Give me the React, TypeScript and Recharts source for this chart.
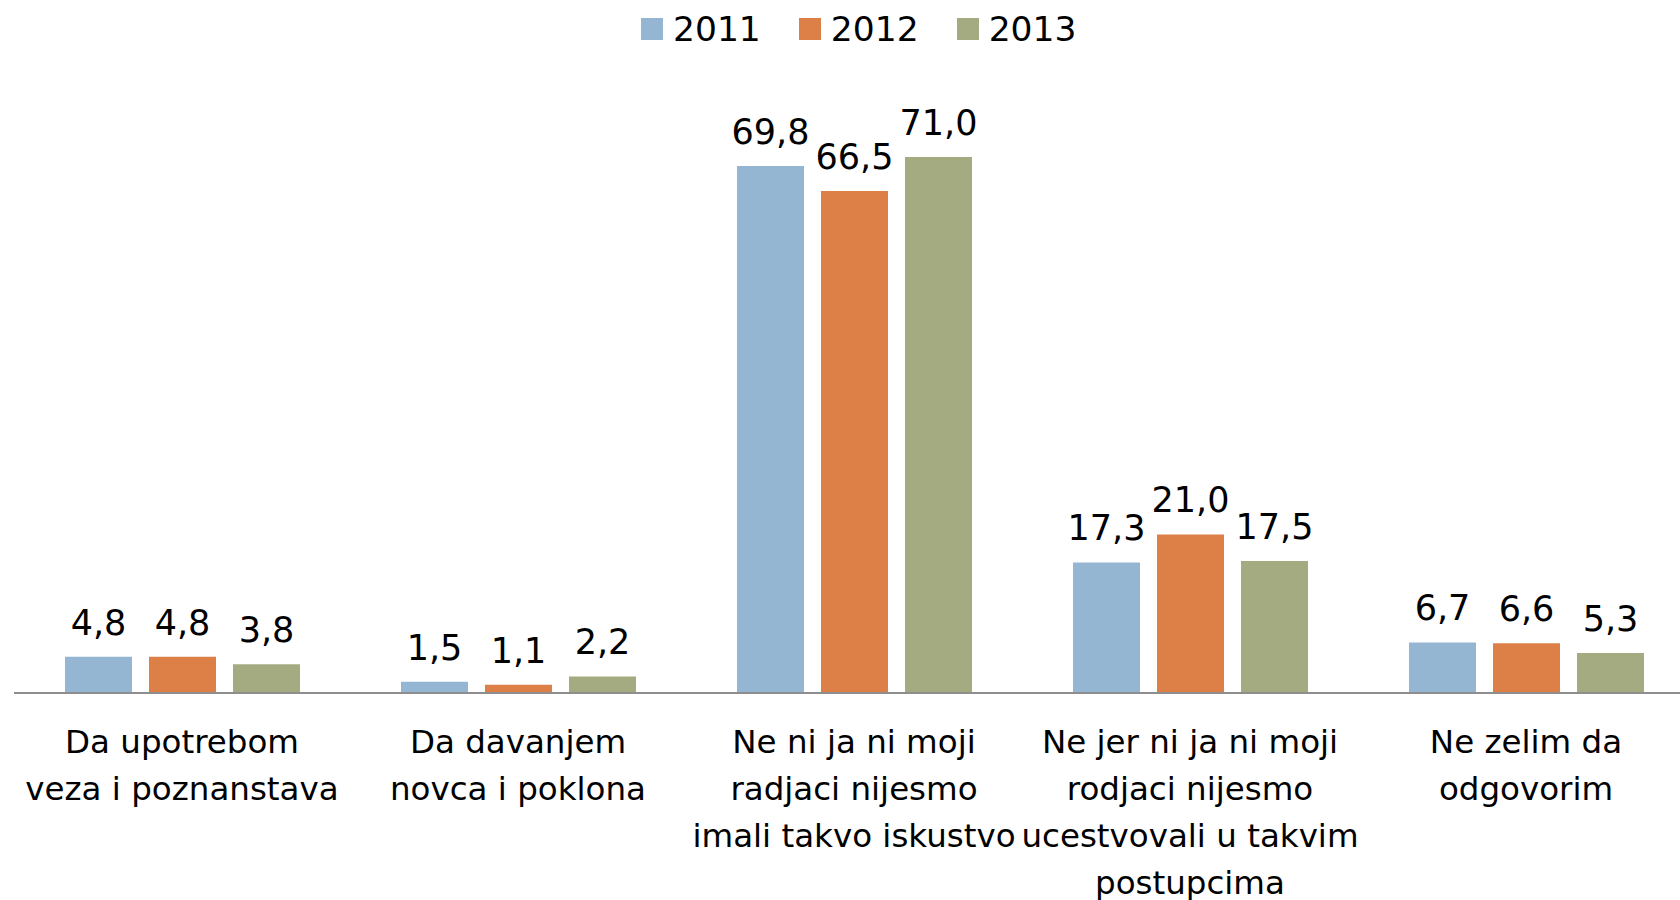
import React from "react";
import { BarChart, Bar, XAxis, YAxis, Legend, LabelList } from "recharts";

const categories = [
  "Da upotrebom\nveza i poznanstava",
  "Da davanjem\nnovca i poklona",
  "Ne ni ja ni moji\nradjaci nijesmo\nimali takvo iskustvo",
  "Ne jer ni ja ni moji\nrodjaci nijesmo\nucestvovali u takvim\npostupcima",
  "Ne zelim da\nodgovorim",
];
const years = ["2011", "2012", "2013"];
const v2011 = [4.8, 1.5, 69.8, 17.3, 6.7];
const v2012 = [4.8, 1.1, 66.5, 21.0, 6.6];
const v2013 = [3.8, 2.2, 71.0, 17.5, 5.3];
const colors = ["#94B6D2", "#DD8047", "#A5AB81"];

const data = categories.map((c, i) => ({
  name: c,
  y2011: v2011[i],
  y2012: v2012[i],
  y2013: v2013[i],
}));

const FONT = "'DejaVu Sans', sans-serif";

const fmt = (v: any) => Number(v).toFixed(1).replace(".", ",");

const CategoryTick = (props: any) => {
  const { x, y, payload } = props;
  const lines = String(payload.value).split("\n");
  return (
    <g>
      {lines.map((ln, i) => (
        <text
          key={i}
          x={x}
          y={y + 60 + i * 47}
          textAnchor="middle"
          fontFamily={FONT}
          fontSize={32.5}
          fill="#000"
        >
          {ln}
        </text>
      ))}
    </g>
  );
};

const LegendContent = () => (
  <div
    style={{
      display: "flex",
      alignItems: "center",
      paddingLeft: 641,
      fontFamily: FONT,
      fontSize: 34.5,
      color: "#000",
      height: 40,
    }}
  >
    {years.map((yr, i) => (
      <div key={yr} style={{ display: "flex", alignItems: "center", marginRight: 38 }}>
        <div style={{ width: 22, height: 22, background: colors[i], marginRight: 10 }} />
        <span style={{ lineHeight: "40px" }}>{yr}</span>
      </div>
    ))}
  </div>
);

export default function App() {
  const keys = ["y2011", "y2012", "y2013"];
  return (
    <div
      style={{
        position: "fixed",
        left: 0,
        top: 0,
        width: 1680,
        height: 900,
        overflow: "hidden",
        background: "#fff",
      }}
    >
      <BarChart
        width={1700}
        height={900}
        data={data}
        margin={{ top: 48, right: 6, bottom: 0, left: 14 }}
        barGap={17}
        barSize={67}
      >
        <XAxis
          dataKey="name"
          tick={<CategoryTick />}
          tickLine={false}
          tickSize={0}
          tickMargin={0}
          height={207}
          interval={0}
          axisLine={{ stroke: "#8E8E8E", strokeWidth: 2 }}
        />
        <YAxis hide domain={[0, 80]} />
        <Legend
          verticalAlign="top"
          height={41}
          content={<LegendContent />}
          wrapperStyle={{ top: 9, left: 0, width: 1700 }}
        />
        {keys.map((k, i) => (
          <Bar key={k} dataKey={k} name={years[i]} fill={colors[i]} isAnimationActive={false}>
            <LabelList
              dataKey={k}
              position="top"
              offset={22}
              formatter={fmt}
              style={{ fontFamily: FONT, fontSize: 35, fill: "#000" }}
            />
          </Bar>
        ))}
      </BarChart>
    </div>
  );
}
